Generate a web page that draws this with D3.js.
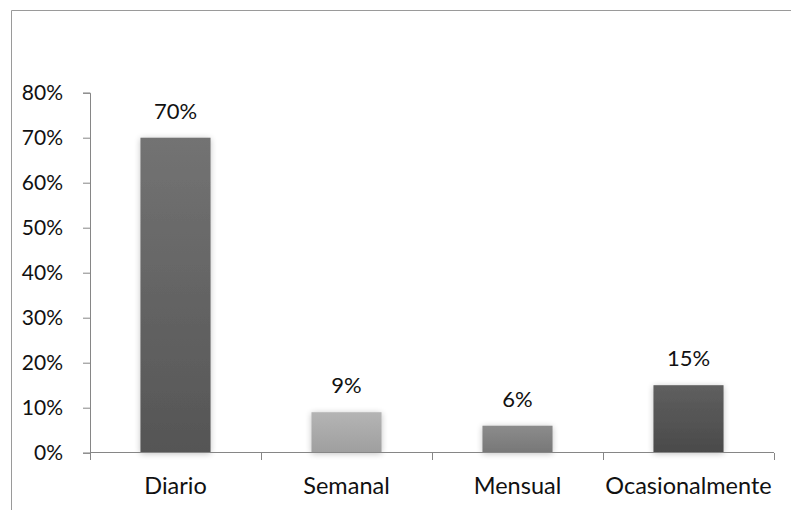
<!DOCTYPE html>
<html><head><meta charset="utf-8">
<script src="https://cdn.jsdelivr.net/npm/d3@7"></script>
<style>body{margin:0;background:#fff}svg{display:block}text{font-family:Lato,"Open Sans",sans-serif;fill:#111}</style>
</head><body><svg id="c" width="791" height="510"></svg>
<script>
const categories = ["Diario","Semanal","Mensual","Ocasionalmente"];
const values = [0.70, 0.09, 0.06, 0.15];
const valueLabels = ["70%","9%","6%","15%"];
const yTicks = [0,0.1,0.2,0.3,0.4,0.5,0.6,0.7,0.8];
const barTop = ["#737373","#b4b4b4","#8c8c8c","#5f5f5f"];
const barBottom = ["#555555","#9f9f9f","#777777","#4a4a4a"];

const svg = d3.select("#c");
const m = {l:90, r:774, t:92.7, b:452.7};
const x = d3.scaleBand().domain(categories).range([m.l, m.r]).paddingInner(0.59).paddingOuter(0.295);
const xb = d3.scaleBand().domain(categories).range([m.l, m.r]);
const y = d3.scaleLinear().domain([0,0.8]).range([m.b, m.t]);

// frame
svg.append("path").attr("d","M11.5,510 V10.5 H791").attr("fill","none").attr("stroke","#9a9a9a").attr("stroke-width",1);

const defs = svg.append("defs");
const f = defs.append("filter").attr("id","sh").attr("x","-30%").attr("y","-30%").attr("width","160%").attr("height","160%");
f.append("feGaussianBlur").attr("in","SourceAlpha").attr("stdDeviation",3).attr("result","b");
f.append("feOffset").attr("in","b").attr("dx",0).attr("dy",1).attr("result","o");
f.append("feComponentTransfer").attr("in","o").attr("result","o2").append("feFuncA").attr("type","linear").attr("slope",0.25);
const fm = f.append("feMerge"); fm.append("feMergeNode").attr("in","o2"); fm.append("feMergeNode").attr("in","SourceGraphic");
categories.forEach((c,i)=>{
  const g = defs.append("linearGradient").attr("id","g"+i).attr("x1",0).attr("y1",0).attr("x2",0).attr("y2",1);
  g.append("stop").attr("offset","0%").attr("stop-color",barTop[i]);
  g.append("stop").attr("offset","100%").attr("stop-color",barBottom[i]);
});

svg.append("g").selectAll("rect").data(categories).join("rect")
  .attr("x",d=>x(d)).attr("width",x.bandwidth())
  .attr("y",(d,i)=>y(values[i])).attr("height",(d,i)=>y(0)-y(values[i]))
  .attr("fill",(d,i)=>`url(#g${i})`).attr("filter","url(#sh)");

// y axis
const ya = svg.append("g").attr("transform",`translate(${m.l},0)`)
  .call(d3.axisLeft(y).tickValues(yTicks).tickFormat(d3.format(".0%")).tickSizeOuter(0).tickSize(7).tickPadding(20));
ya.select(".domain").attr("stroke","#868686");
ya.selectAll(".tick line").attr("stroke","#868686");
ya.selectAll("text").attr("font-size",21).attr("fill","#111").attr("font-family","Lato");

// x axis
const xa = svg.append("g").attr("transform",`translate(0,${m.b})`);
xa.append("line").attr("x1",m.l).attr("x2",m.r).attr("stroke","#868686").attr("shape-rendering","crispEdges");
xa.selectAll("line.t").data(categories.concat(["_end"])).join("line").attr("class","t")
  .attr("x1",(d,i)=> i<categories.length ? xb(d) : xb.range()[1]).attr("x2",(d,i)=> i<categories.length ? xb(d) : xb.range()[1])
  .attr("y1",0).attr("y2",7).attr("stroke","#868686").attr("shape-rendering","crispEdges");
xa.selectAll("text").data(categories).join("text")
  .attr("x",d=>xb(d)+xb.bandwidth()/2).attr("y",41).attr("text-anchor","middle").attr("font-size",23.5).text(d=>d);

// value labels
svg.append("g").selectAll("text").data(categories).join("text")
  .attr("x",d=>x(d)+x.bandwidth()/2).attr("y",(d,i)=>y(values[i])-19)
  .attr("text-anchor","middle").attr("font-size",22).text((d,i)=>valueLabels[i]);
</script></body></html>
